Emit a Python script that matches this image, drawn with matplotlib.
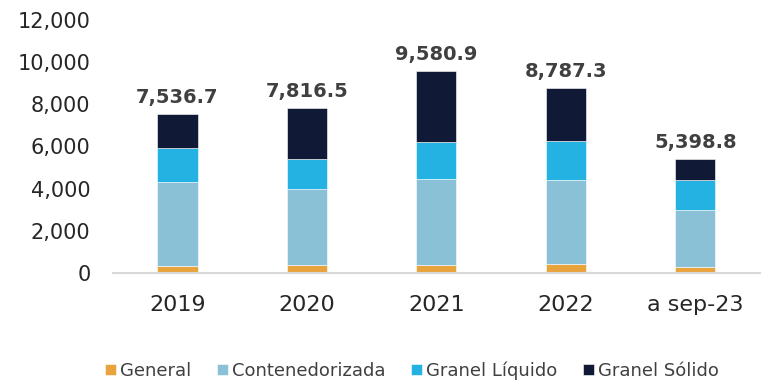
import matplotlib.pyplot as plt

# Carga por tipo, miles de toneladas
years = ['2019', '2020', '2021', '2022', 'a sep-23']
general = [350, 370, 410, 440, 290]
contenedorizada = [3960, 3640, 4070, 3990, 2690]
granel_liquido = [1620, 1420, 1710, 1820, 1420]
totals = [7536.7, 7816.5, 9580.9, 8787.3, 5398.8]

# Granel sólido is whatever is left to reach the stated total
granel_solido = [t - g - c - l for t, g, c, l in
                 zip(totals, general, contenedorizada, granel_liquido)]

series = [
    ('General', general, '#E8A33D'),
    ('Contenedorizada', contenedorizada, '#8AC1D6'),
    ('Granel Líquido', granel_liquido, '#23B2E2'),
    ('Granel Sólido', granel_solido, '#101935'),
]

plt.rcParams['font.family'] = ['DejaVu Sans']

fig = plt.figure(figsize=(7.67, 3.81), dpi=100)
ax = fig.add_axes([0.147, 0.283, 0.844, 0.665])

x = range(len(years))
bottom = [0] * len(years)
for name, values, color in series:
    ax.bar(x, values, width=0.31, bottom=bottom, color=color,
           edgecolor='white', linewidth=0.4, label=name)
    bottom = [b + v for b, v in zip(bottom, values)]

# Total above each bar
for i, total in enumerate(totals):
    ax.annotate(f'{total:,.1f}', (i, total), xytext=(0, 5),
                textcoords='offset points', ha='center', va='bottom',
                fontsize=14, fontweight='bold', color='#404040')

ax.set_xlim(-0.5, len(years) - 0.5)
ax.set_ylim(0, 12000)
ax.set_yticks(range(0, 12001, 2000))
ax.yaxis.set_major_formatter(plt.FuncFormatter(lambda v, p: f'{v:,.0f}'))
ax.set_xticks(list(x))
ax.set_xticklabels(years)
ax.tick_params(axis='both', length=0, labelcolor='#262626')
ax.tick_params(axis='y', labelsize=15, pad=16)
ax.tick_params(axis='x', labelsize=16, pad=16)

for side in ['top', 'right', 'left']:
    ax.spines[side].set_visible(False)
ax.spines['bottom'].set_color('#D9D9D9')
ax.spines['bottom'].set_linewidth(1.5)

fig.legend(loc='lower center', bbox_to_anchor=(0.537, -0.04), ncol=4,
           frameon=False, fontsize=13, handlelength=0.6, handleheight=0.6,
           handletextpad=0.25, columnspacing=1.4, labelcolor='#404040')

fig.savefig('out.png', dpi=100)
